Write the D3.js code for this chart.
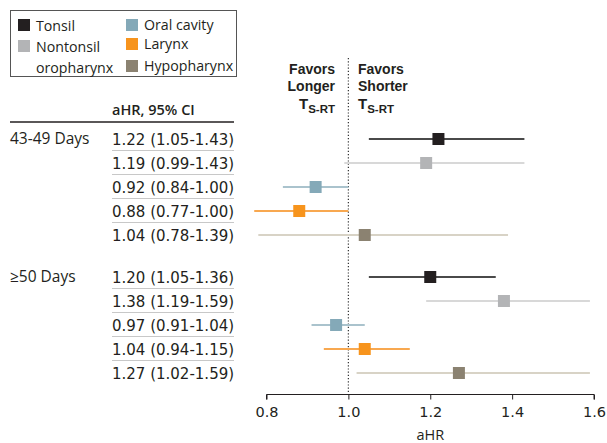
<!DOCTYPE html>
<html>
<head>
<meta charset="utf-8">
<script src="https://cdn.jsdelivr.net/npm/d3@7"></script>
<style>
  html, body { margin: 0; padding: 0; background: #fff; }
  svg { display: block; font-family: "Open Sans", "Noto Sans", sans-serif; }
</style>
</head>
<body>
<svg id="chart" width="607" height="443"></svg>
<script>
// ---- Data ----
const sites = ["Tonsil", "Nontonsil oropharynx", "Oral cavity", "Larynx", "Hypopharynx"];
const groups = ["43-49 Days", "≥50 Days"];
const hr43 = [1.22, 1.19, 0.92, 0.88, 1.04];
const lo43 = [1.05, 0.99, 0.84, 0.77, 0.78];
const hi43 = [1.43, 1.43, 1.00, 1.00, 1.39];
const hr50 = [1.20, 1.38, 0.97, 1.04, 1.27];
const lo50 = [1.05, 1.19, 0.91, 0.94, 1.02];
const hi50 = [1.36, 1.59, 1.04, 1.15, 1.59];
const labels43 = ["1.22 (1.05-1.43)", "1.19 (0.99-1.43)", "0.92 (0.84-1.00)", "0.88 (0.77-1.00)", "1.04 (0.78-1.39)"];
const labels50 = ["1.20 (1.05-1.36)", "1.38 (1.19-1.59)", "0.97 (0.91-1.04)", "1.04 (0.94-1.15)", "1.27 (1.02-1.59)"];
const xTicks = [0.8, 1.0, 1.2, 1.4, 1.6];

// ---- Styles ----
const markerColors = ["#231f20", "#b3b4b6", "#84a9b8", "#f7941d", "#8b8271"];
const lineColors = ["#4a4a4a", "#d8d8d8", "#aac3cd", "#f8a850", "#d8d3c6"];
const numFont = "DejaVu Sans, Verdana, sans-serif";
const ink = "#231f20";

const svg = d3.select("#chart");
const x = d3.scaleLinear().domain([0.8, 1.6]).range([266.5, 594]);

// rows
const rows = [];
[[hr43, lo43, hi43, labels43], [hr50, lo50, hi50, labels50]].forEach((g, gi) => {
  g[0].forEach((v, i) => rows.push({ group: gi, site: i, hr: v, lo: g[1][i], hi: g[2][i], label: g[3][i] }));
});
const y = d3.scaleLinear().domain([0, 1]).range([139, 163]);
const rowY = d => d.group === 0 ? y(d.site) : y(d.site) + 138;

// ---- Legend ----
const leg = svg.append("g");
leg.append("rect").attr("x", 10.5).attr("y", 10.5).attr("width", 226).attr("height", 66)
  .attr("fill", "none").attr("stroke", "#555").attr("stroke-width", 1);
const legItems = [
  { i: 0, x: 18, y: 19, lines: ["Tonsil"], ty: 31 },
  { i: 1, x: 18, y: 40, lines: ["Nontonsil", "oropharynx"], ty: 52 },
  { i: 2, x: 126, y: 19, lines: ["Oral cavity"], ty: 30 },
  { i: 3, x: 126, y: 38, lines: ["Larynx"], ty: 49 },
  { i: 4, x: 126, y: 60, lines: ["Hypopharynx"], ty: 71 }
];
legItems.forEach(it => {
  leg.append("rect").attr("x", it.x).attr("y", it.y).attr("width", 12).attr("height", 12)
    .attr("fill", markerColors[it.i]);
  it.lines.forEach((t, k) => {
    leg.append("text").attr("x", it.x + 18).attr("y", it.ty + k * 21)
      .attr("font-size", 14.2).attr("fill", ink).text(t);
  });
});

// ---- Table ----
const tbl = svg.append("g");
tbl.append("text").attr("x", 112).attr("y", 115).attr("font-size", 14.5).attr("font-weight", 600)
  .attr("fill", ink).text("aHR, 95% CI");
tbl.append("line").attr("x1", 10).attr("x2", 234).attr("y1", 122).attr("y2", 122)
  .attr("stroke", ink).attr("stroke-width", 1.3);
groups.forEach((g, gi) => {
  tbl.append("text").attr("x", 10).attr("y", rowY({ group: gi, site: 0 }) + 5)
    .attr("font-size", 15.5).attr("fill", ink).text(g);
});
rows.forEach(d => {
  tbl.append("text").attr("x", 112).attr("y", rowY(d) + 5.5).attr("font-size", 15)
    .attr("font-family", numFont).attr("fill", ink).text(d.label);
  if (d.site < 4) {
    tbl.append("line").attr("x1", 112).attr("x2", 234)
      .attr("y1", rowY(d) + 11.5).attr("y2", rowY(d) + 11.5)
      .attr("stroke", "#c8c8c8").attr("stroke-width", 1);
  }
});

// ---- Favors labels ----
const fav = svg.append("g").attr("font-size", 14).attr("font-weight", 700).attr("fill", ink)
  .attr("font-family", "Liberation Sans, Arial, sans-serif");
function favBlock(xp, anchor, words) {
  fav.append("text").attr("x", xp).attr("y", 74).attr("text-anchor", anchor).text(words[0]);
  fav.append("text").attr("x", xp).attr("y", 91).attr("text-anchor", anchor).text(words[1]);
  const t3 = fav.append("text").attr("x", xp).attr("y", 109).attr("text-anchor", anchor);
  t3.append("tspan").attr("font-size", 15).text("T");
  t3.append("tspan").attr("font-size", 11.5).attr("dy", 4).text("S-RT");
}
favBlock(335, "end", ["Favors", "Longer"]);
favBlock(358, "start", ["Favors", "Shorter"]);

// ---- Reference line ----
svg.append("line").attr("x1", x(1)).attr("x2", x(1)).attr("y1", 58).attr("y2", 394)
  .attr("stroke", "#333").attr("stroke-width", 1.2).attr("stroke-dasharray", "1.2,2");

// ---- CI lines & markers ----
const plot = svg.append("g");
plot.selectAll("line.ci").data(rows).join("line").attr("class", "ci")
  .attr("x1", d => x(d.lo)).attr("x2", d => x(d.hi))
  .attr("y1", d => rowY(d)).attr("y2", d => rowY(d))
  .attr("stroke", d => lineColors[d.site]).attr("stroke-width", 2);
plot.selectAll("rect.m").data(rows).join("rect").attr("class", "m")
  .attr("x", d => x(d.hr) - 6).attr("y", d => rowY(d) - 6)
  .attr("width", 12).attr("height", 12)
  .attr("fill", d => markerColors[d.site]);

// ---- Axis ----
const axis = d3.axisBottom(x).tickValues(xTicks).tickFormat(d3.format(".1f")).tickSize(5).tickPadding(7);
const ax = svg.append("g").attr("transform", "translate(0,394.5)").call(axis);
ax.select(".domain").attr("stroke", ink).attr("d", "M266.5,5V0H594V5");
ax.selectAll(".tick line").attr("stroke", ink);
ax.selectAll(".tick text").attr("font-size", 14.5).attr("fill", ink)
  .attr("font-family", numFont);
svg.append("text").attr("x", x(1.2)).attr("y", 440).attr("text-anchor", "middle")
  .attr("font-size", 14.5).attr("fill", ink).text("aHR");
</script>
</body>
</html>
